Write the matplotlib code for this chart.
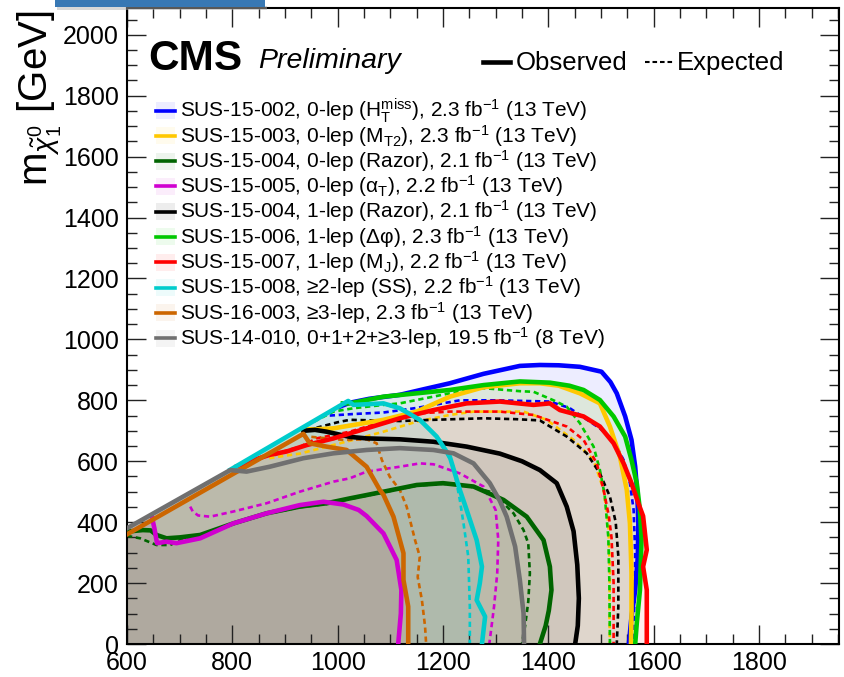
import matplotlib
matplotlib.use('Agg')
import matplotlib.pyplot as plt
from matplotlib.patches import Rectangle
from matplotlib.lines import Line2D
from matplotlib.ticker import MultipleLocator

plt.rcParams['font.family'] = ['Liberation Sans', 'DejaVu Sans']
plt.rcParams['mathtext.fontset'] = 'custom'
plt.rcParams['mathtext.rm'] = 'Liberation Sans'
plt.rcParams['mathtext.it'] = 'Liberation Sans:italic'
plt.rcParams['mathtext.bf'] = 'Liberation Sans:bold'

# kinematic edge: m(LSP) = m(gluino) - delta_m
delta_m = 225

# SUS-15-002, 0-lep HT miss
ht_obs_x = [1005, 1023, 1060, 1118, 1160, 1213, 1277, 1346, 1384, 1420, 1460, 1501, 1518, 1530, 1546, 1558, 1565, 1569, 1571, 1570, 1565, 1558, 1553]
ht_obs_y = [780, 792, 805, 818, 835, 856, 887, 913, 916, 915, 910, 894, 860, 823, 747, 670, 582, 495, 396, 287, 177, 90, 0]
ht_exp_x = [985, 1030, 1087, 1150, 1232, 1300, 1403, 1440, 1460, 1498, 1523, 1543, 1555, 1562, 1565, 1564, 1560]
ht_exp_y = [750, 755, 760, 775, 800, 800, 796, 775, 752, 708, 670, 604, 528, 440, 300, 150, 0]

# SUS-15-003, 0-lep MT2
mt2_obs_x = [935, 960, 992, 1040, 1087, 1150, 1213, 1277, 1346, 1384, 1420, 1460, 1498, 1517, 1536, 1549, 1555, 1558, 1558, 1557]
mt2_obs_y = [705, 705, 708, 722, 736, 763, 812, 843, 856, 856, 848, 823, 790, 714, 615, 506, 396, 232, 100, 0]
mt2_exp_x = [870, 900, 928, 980, 1040, 1087, 1150, 1213, 1258, 1308, 1353, 1397, 1448, 1486, 1505, 1514, 1517, 1516, 1517]
mt2_exp_y = [610, 618, 625, 648, 675, 697, 730, 752, 763, 763, 763, 736, 670, 604, 506, 396, 232, 100, 0]

# SUS-15-004, 0-lep razor
rz0_obs_x = [600, 630, 645, 656, 675, 700, 739, 802, 865, 928, 979, 1023, 1087, 1150, 1200, 1258, 1315, 1359, 1391, 1403, 1406, 1401, 1395, 1384]
rz0_obs_y = [369, 374, 373, 358, 347, 350, 358, 396, 429, 451, 462, 478, 500, 522, 528, 517, 473, 418, 341, 254, 177, 110, 60, 0]
rz0_exp_x = [600, 625, 656, 682, 700, 739, 802, 865, 928, 979, 1023, 1087, 1150, 1200, 1245, 1289, 1315, 1334, 1353, 1362, 1365, 1362, 1356, 1350]
rz0_exp_y = [355, 347, 325, 325, 340, 355, 394, 427, 449, 460, 476, 498, 520, 526, 520, 500, 462, 429, 374, 330, 232, 140, 60, 0]

# SUS-15-005, 0-lep alphaT
at_obs_x = [647, 652, 657, 675, 694, 739, 802, 865, 928, 973, 1011, 1040, 1055, 1087, 1112, 1121, 1120, 1117, 1115]
at_obs_y = [420, 380, 331, 336, 331, 347, 396, 429, 456, 467, 458, 440, 420, 363, 276, 177, 100, 40, 0]
at_exp_x = [720, 725, 735, 758, 802, 865, 928, 992, 1023, 1055, 1118, 1156, 1182, 1232, 1277, 1300, 1305, 1303, 1297, 1288]
at_exp_y = [451, 435, 422, 418, 435, 462, 500, 533, 544, 566, 582, 593, 590, 560, 517, 440, 342, 232, 123, 0]

# SUS-15-004, 1-lep razor
rz1_obs_x = [935, 957, 979, 1023, 1055, 1118, 1182, 1245, 1308, 1350, 1384, 1416, 1435, 1448, 1455, 1458, 1456, 1451]
rz1_obs_y = [700, 703, 697, 680, 675, 672, 664, 648, 625, 600, 571, 528, 451, 370, 260, 150, 60, 0]
rz1_exp_x = [960, 1000, 1023, 1118, 1182, 1277, 1340, 1384, 1435, 1473, 1498, 1517, 1528, 1533, 1533, 1531, 1530]
rz1_exp_y = [710, 728, 736, 732, 736, 741, 738, 734, 681, 626, 560, 484, 400, 287, 123, 40, 0]

# SUS-15-006, 1-lep delta phi
dphi_obs_x = [1010, 1023, 1087, 1150, 1213, 1277, 1346, 1403, 1440, 1467, 1498, 1524, 1546, 1558, 1568, 1574, 1577, 1574, 1568, 1565]
dphi_obs_y = [790, 790, 812, 823, 834, 850, 862, 858, 848, 834, 801, 747, 681, 604, 528, 440, 342, 177, 68, 0]
dphi_exp_x = [955, 992, 1030, 1087, 1118, 1213, 1277, 1346, 1372, 1410, 1435, 1460, 1486, 1498, 1507, 1514, 1516, 1517]
dphi_exp_y = [730, 763, 774, 785, 790, 823, 840, 830, 828, 800, 779, 725, 648, 571, 490, 350, 200, 0]

# SUS-15-007, 1-lep MJ
mj_obs_x = [808, 840, 871, 903, 941, 992, 1055, 1118, 1182, 1245, 1308, 1372, 1403, 1422, 1467, 1498, 1524, 1543, 1558, 1571, 1580, 1587, 1580, 1587, 1587, 1587]
mj_obs_y = [583, 604, 621, 632, 653, 675, 708, 741, 768, 790, 796, 785, 790, 768, 747, 714, 659, 593, 528, 462, 420, 309, 254, 177, 68, 0]
mj_exp_x = [880, 897, 929, 960, 1023, 1087, 1150, 1213, 1308, 1372, 1435, 1467, 1492, 1505, 1515, 1520, 1524, 1524]
mj_exp_y = [620, 632, 648, 675, 697, 730, 757, 763, 763, 752, 714, 670, 593, 506, 420, 350, 200, 0]

# SUS-15-008, same-sign dilepton
ss_obs_x = [796, 1020, 1030, 1087, 1118, 1156, 1188, 1213, 1232, 1245, 1264, 1274, 1270, 1264, 1280, 1274]
ss_obs_y = [572, 798, 785, 790, 774, 736, 681, 615, 506, 440, 341, 254, 200, 144, 90, 0]
ss_exp_x = [1025, 1087, 1118, 1156, 1194, 1220, 1232, 1239, 1248, 1251, 1251]
ss_exp_y = [795, 788, 772, 734, 670, 582, 473, 396, 287, 123, 0]

# SUS-16-003, multilepton
ml_obs_x = [600, 935, 947, 979, 1017, 1055, 1080, 1087, 1106, 1125, 1125, 1134, 1134]
ml_obs_y = [360, 690, 659, 648, 637, 582, 506, 490, 418, 298, 210, 123, 0]
ml_exp_x = [950, 1011, 1055, 1074, 1084, 1099, 1118, 1131, 1147, 1156, 1152, 1160, 1166, 1168]
ml_exp_y = [680, 670, 672, 659, 604, 549, 506, 451, 341, 287, 220, 144, 57, 0]

# SUS-14-010, 8 TeV combination
run1_obs_x = [600, 796, 827, 871, 935, 992, 1055, 1118, 1182, 1220, 1258, 1289, 1308, 1321, 1337, 1346, 1353, 1354]
run1_obs_y = [380, 571, 566, 582, 610, 626, 637, 643, 637, 626, 593, 528, 470, 418, 320, 210, 101, 0]

labels = [
    r'SUS-15-002, 0-lep (H$_{\mathrm{T}}^{\mathrm{miss}}$), 2.3 fb$^{-1}$ (13 TeV)',
    r'SUS-15-003, 0-lep (M$_{\mathrm{T2}}$), 2.3 fb$^{-1}$ (13 TeV)',
    r'SUS-15-004, 0-lep (Razor), 2.1 fb$^{-1}$ (13 TeV)',
    r'SUS-15-005, 0-lep (α$_{\mathrm{T}}$), 2.2 fb$^{-1}$ (13 TeV)',
    r'SUS-15-004, 1-lep (Razor), 2.1 fb$^{-1}$ (13 TeV)',
    r'SUS-15-006, 1-lep (Δφ), 2.3 fb$^{-1}$ (13 TeV)',
    r'SUS-15-007, 1-lep (M$_{\mathrm{J}}$), 2.2 fb$^{-1}$ (13 TeV)',
    r'SUS-15-008, ≥2-lep (SS), 2.2 fb$^{-1}$ (13 TeV)',
    r'SUS-16-003, ≥3-lep, 2.3 fb$^{-1}$ (13 TeV)',
    r'SUS-14-010, 0+1+2+≥3-lep, 19.5 fb$^{-1}$ (8 TeV)',
]
colors = ['#0000ff', '#ffc800', '#006400', '#d000d0', '#000000',
          '#00c800', '#ff0000', '#00cccc', '#cc6600', '#707070']

observed = [(ht_obs_x, ht_obs_y), (mt2_obs_x, mt2_obs_y), (rz0_obs_x, rz0_obs_y),
            (at_obs_x, at_obs_y), (rz1_obs_x, rz1_obs_y), (dphi_obs_x, dphi_obs_y),
            (mj_obs_x, mj_obs_y), (ss_obs_x, ss_obs_y), (ml_obs_x, ml_obs_y),
            (run1_obs_x, run1_obs_y)]
expected = [(ht_exp_x, ht_exp_y), (mt2_exp_x, mt2_exp_y), (rz0_exp_x, rz0_exp_y),
            (at_exp_x, at_exp_y), (rz1_exp_x, rz1_exp_y), (dphi_exp_x, dphi_exp_y),
            (mj_exp_x, mj_exp_y), (ss_exp_x, ss_exp_y), (ml_exp_x, ml_exp_y), None]

W, H = 844, 677
fig = plt.figure(figsize=(W / 100, H / 100), dpi=100)


def fx(p):
    return p / W


def fy(p):
    return 1 - p / H


ax = fig.add_axes([fx(127), fy(644), fx(839) - fx(127), fy(8) - fy(644)])
ax.set_xlim(600, 1952)
ax.set_ylim(0, 2088)
x0 = ax.get_xlim()[0]

# excluded regions, closed along the bottom and the kinematic edge
fill_alpha = 0.07
for (xs, ys), c in zip(observed, colors):
    ax.fill(list(xs) + [x0, x0], list(ys) + [0, x0 - delta_m],
            color=c, alpha=fill_alpha, lw=0, zorder=1)

for exp, c in zip(expected, colors):
    if exp is None:
        continue
    ax.plot(exp[0], exp[1], color=c, lw=1.9, dashes=(2.0, 1.4), zorder=2)

for (xs, ys), c in zip(observed, colors):
    ax.plot(xs, ys, color=c, lw=3.3, solid_joinstyle='round', zorder=3)

ax.xaxis.set_major_locator(MultipleLocator(200))
ax.xaxis.set_minor_locator(MultipleLocator(50))
ax.yaxis.set_major_locator(MultipleLocator(200))
ax.yaxis.set_minor_locator(MultipleLocator(50))
ax.tick_params(which='both', direction='in', top=True, right=True,
               width=1.0, colors='#222222', labelcolor='black', labelsize=18)
ax.tick_params(which='major', length=14)
ax.tick_params(which='minor', length=7)
ax.tick_params(axis='x', pad=5)
ax.tick_params(axis='y', pad=6)
for s in ax.spines.values():
    s.set_linewidth(1.5)

# y axis title, top-aligned
fig.text(fx(48), fy(10), r'm$_{\tilde{\chi}^{0}_{1}}$ [GeV]', fontsize=29,
         rotation=90, rotation_mode='anchor', ha='right', va='baseline')

fig.text(fx(148), fy(70), 'CMS', fontsize=30.5, fontweight='bold', va='baseline')
fig.text(fx(258), fy(68), 'Preliminary', fontsize=20.5, style='italic', va='baseline')

fig.lines.append(Line2D([fx(483), fx(510)], [fy(62), fy(62)], transform=fig.transFigure,
                        color='black', lw=3.3))
fig.text(fx(516), fy(70), 'Observed', fontsize=18.5, va='baseline')
fig.lines.append(Line2D([fx(645), fx(673)], [fy(62), fy(62)], transform=fig.transFigure,
                        color='black', lw=1.5, dashes=(2.2, 1.4)))
fig.text(fx(677), fy(70), 'Expected', fontsize=18.5, va='baseline')

# legend entries
for i, (lab, c) in enumerate(zip(labels, colors)):
    yc = 110.5 + 25.3 * i
    fig.patches.append(Rectangle((fx(156), fy(yc + 8.5)), fx(175) - fx(156), fy(yc - 8.5) - fy(yc + 8.5),
                                 transform=fig.transFigure, facecolor=c, alpha=fill_alpha,
                                 edgecolor='none'))
    fig.lines.append(Line2D([fx(156), fx(175)], [fy(yc), fy(yc)], transform=fig.transFigure,
                            color=c, lw=2.6))
    fig.text(fx(180), fy(yc + 6.5), lab, fontsize=15, va='baseline')

# slide banner peeking in at the top
fig.patches.append(Rectangle((fx(57), fy(10)), fx(210), fy(6) - fy(10), transform=fig.transFigure,
                             facecolor='#b0b0b0', alpha=0.5, edgecolor='none', zorder=9))
fig.patches.append(Rectangle((fx(55), fy(7)), fx(210), fy(0) - fy(7), transform=fig.transFigure,
                             facecolor='#3878b4', edgecolor='none', zorder=10))

fig.savefig('out.png', dpi=100)
